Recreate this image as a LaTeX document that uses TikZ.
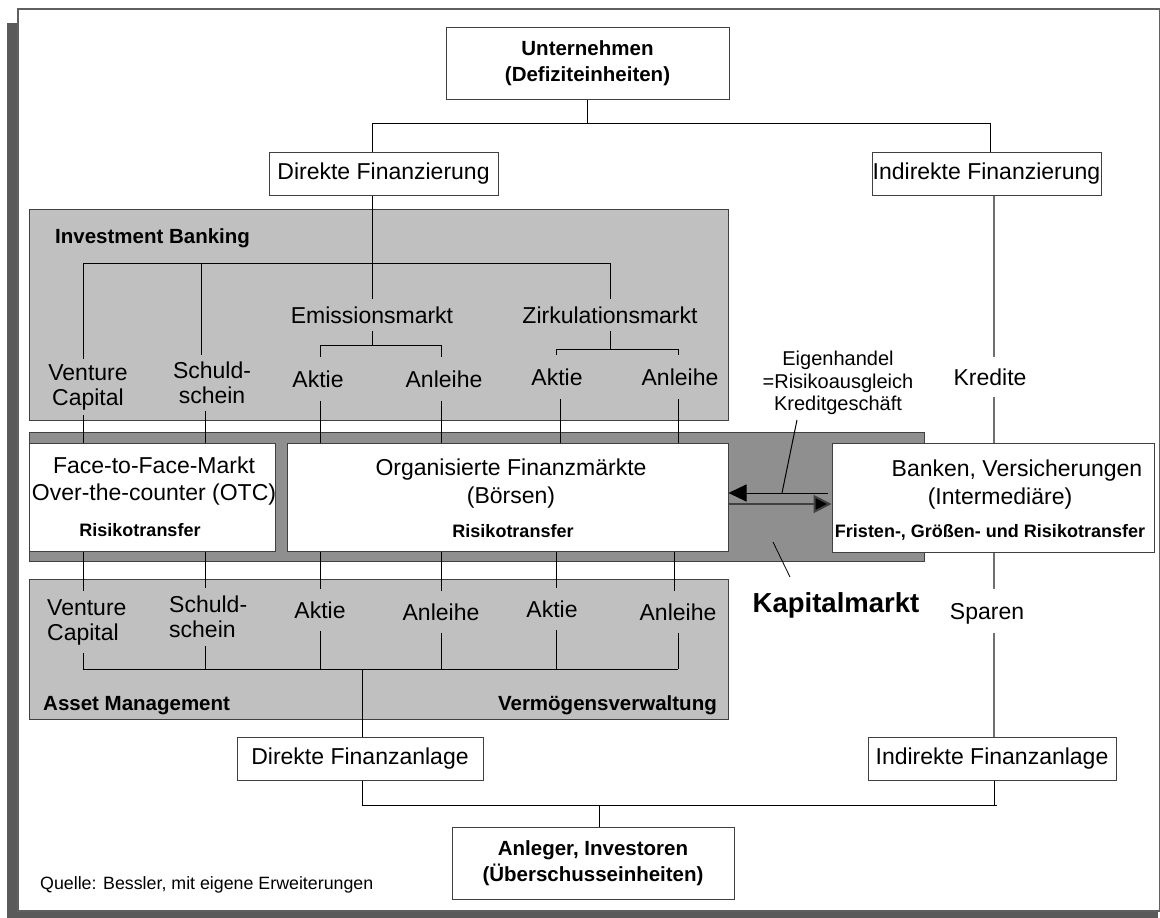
\documentclass[tikz,border=0pt]{standalone}
\usepackage{fontspec}
\setmainfont{Liberation Sans}
\usetikzlibrary{arrows.meta}
\definecolor{boxgray}{HTML}{C0C0C0}
\definecolor{bandgray}{HTML}{8F8F8F}
\definecolor{shadowgray}{HTML}{5A5A5A}
\definecolor{edgegray}{HTML}{404040}
\definecolor{framegray}{HTML}{606060}
\definecolor{linegray}{HTML}{6E6E6E}
\begin{document}
\begin{tikzpicture}[x=1pt,y=-1pt,
  box/.style={draw=edgegray, line width=1pt, fill=white, inner sep=0pt},
  area/.style={draw=edgegray, line width=1pt, fill=boxgray, inner sep=0pt},
  lbl/.style={font=\fontsize{23}{25}\selectfont, inner sep=6pt, align=center},
  one/.style={font=\fontsize{23}{25}\selectfont, inner xsep=2pt, inner ysep=8pt, text height=16.5pt, text depth=0pt},
  bt/.style={font=\fontsize{20.5}{26}\selectfont\bfseries, align=center},
  ttl/.style={font=\fontsize{20.5}{24}\selectfont\bfseries, inner sep=0pt, text height=14.8pt, text depth=0pt},
  sbt/.style={font=\fontsize{18}{21}\selectfont\bfseries, inner sep=0pt, text height=13pt, text depth=0pt},
  ln/.style={line width=1pt, black},
  gln/.style={line width=1.2pt, linegray},
  tip/.style={-{Triangle[length=18pt,width=17pt]}}
]
\useasboundingbox (0,0) rectangle (1160,918);
% frame with shadow
\fill[shadowgray] (7,23) rectangle (1158,918);
\draw[fill=white, draw=framegray, line width=1.2pt] (18,9) rectangle (1160,911);

% areas
\node[area, minimum width=699pt, minimum height=211pt] (ib) at (378.5,314.5) {};
\node[draw=edgegray, line width=1pt, fill=bandgray, inner sep=0pt, minimum width=895pt, minimum height=129pt] (km) at (476.5,496.5) {};
\node[area, minimum width=699pt, minimum height=140pt] (am) at (378.5,649) {};

% boxes
\node[box, bt, minimum width=283pt, minimum height=72pt] (unt) at (587.5,63) {Unternehmen\\(Defiziteinheiten)};
\node[box, font=\fontsize{23}{25}\selectfont, minimum width=229pt, minimum height=43pt] (dfin) at (383.5,173.5) {Direkte Finanzierung};
\node[box, font=\fontsize{23}{25}\selectfont, minimum width=229pt, minimum height=43pt] (ifin) at (986.5,173.5) {Indirekte Finanzierung};
\node[box, minimum width=246pt, minimum height=108pt] (otc) at (152,497) {};
\node[box, minimum width=441pt, minimum height=108pt] (boe) at (507.5,497) {};
\node[box, minimum width=322pt, minimum height=109pt] (ban) at (993,497.5) {};
\node[box, font=\fontsize{23}{25}\selectfont, minimum width=246pt, minimum height=43pt] (dfa) at (360,758.5) {Direkte Finanzanlage};
\node[box, font=\fontsize{23}{25}\selectfont, minimum width=248pt, minimum height=43pt] (ifa) at (992,758.5) {Indirekte Finanzanlage};
\node[box, bt, minimum width=282pt, minimum height=72pt] (anl) at (593,863) {Anleger, Investoren\\(Überschusseinheiten)};

% texts inside boxes / areas
\node[ttl, anchor=west] (ibt) at (55,236) {Investment Banking};
\node[ttl, anchor=west] (amt) at (43,703) {Asset Management};
\node[ttl, anchor=east] (vvt) at (717,703) {Vermögensverwaltung};
\node[lbl, font=\fontsize{23}{27}\selectfont, inner sep=0pt] (otct) at (154,481) {Face-to-Face-Markt\\Over-the-counter (OTC)};
\node[sbt] (otcr) at (140,530) {Risikotransfer};
\node[lbl, font=\fontsize{23}{28}\selectfont, inner sep=0pt] (boet) at (511,484) {Organisierte Finanzmärkte\\(Börsen)};
\node[sbt] (boer) at (513,531) {Risikotransfer};
\node[one, inner sep=0pt] (ban1) at (1017,468) {Banken, Versicherungen};
\node[one, inner sep=0pt] (ban2) at (1000,496) {(Intermediäre)};
\node[sbt] (banr) at (990,531) {Fristen-, Größen- und Risikotransfer};

% labels row 1
\node[one] (emi) at (372,315) {Emissionsmarkt};
\node[one] (zir) at (610,315) {Zirkulationsmarkt};
\node[lbl, inner ysep=5pt] (vc1) at (88,387) {Venture\\Capital};
\node[lbl, inner ysep=7pt] (sd1) at (212,383) {Schuld-\\schein};
\node[one, inner ysep=14pt] (ak1) at (318,379) {Aktie};
\node[one, inner ysep=14pt] (an1) at (444,379) {Anleihe};
\node[one, inner ysep=14pt] (ak2) at (557,377) {Aktie};
\node[one, inner ysep=14pt] (an2) at (680,377) {Anleihe};

% labels row 3
\node[lbl, align=left, anchor=west, inner xsep=0pt, inner ysep=8pt] (vc3) at (47,622) {Venture\\Capital};
\node[lbl, align=left, anchor=west, inner xsep=0pt, inner ysep=8pt] (sd3) at (169,617) {Schuld-\\schein};
\node[one, inner ysep=13pt] (ak3) at (320,610) {Aktie};
\node[one, inner ysep=13pt] (an3) at (441,612) {Anleihe};
\node[one, inner ysep=13pt] (ak4) at (552,609) {Aktie};
\node[one, inner ysep=13pt] (an4) at (678,612) {Anleihe};

% right column
\node[one, inner ysep=12pt] (kre) at (990,377) {Kredite};
\node[one, inner ysep=14pt] (spa) at (987,611) {Sparen};
\node[font=\fontsize{20}{22.5}\selectfont, align=center, inner sep=3pt] (eig) at (838,383) {Eigenhandel\\=Risikoausgleich\\Kreditgeschäft};
\node[font=\fontsize{27.5}{30}\selectfont\bfseries, inner sep=0pt, text height=19.7pt, text depth=0pt] (kap) at (836,603) {Kapitalmarkt};
\node[font=\fontsize{17.8}{20}\selectfont, anchor=west, inner sep=0pt, text height=12.8pt, text depth=0pt] (src) at (40,883) {Quelle: Bessler, mit eigene Erweiterungen};

% named x positions and junctions
\coordinate (jL) at (372,123);
\coordinate (jR) at (990,123);
\coordinate (xb) at (201,0);
\coordinate (xb2) at (205,0);
\coordinate (xe2) at (560,0);
\coordinate (xf2) at (674,0);
\coordinate (xr) at (994,0);
\coordinate (xdl) at (362,0);
\coordinate (xan) at (599,0);
\coordinate (b1) at (83,263);
\coordinate (b4) at (610,263);
\coordinate (e1) at (320,345);
\coordinate (e2) at (441,345);
\coordinate (z1) at (556,349);
\coordinate (z2) at (678,349);
\coordinate (r1) at (83,669);
\coordinate (r6) at (678,669);
\coordinate (jb1) at (362,805);
\coordinate (jb2) at (997,805);
\coordinate (arL) at (828,493);
\coordinate (arR) at (728,504);
\coordinate (eigA) at (797,420);
\coordinate (eigB) at (782,493);
\coordinate (kmA) at (773,542);
\coordinate (kmB) at (790,577);

% top tree
\draw[ln] (unt.south) -- (unt.south |- jL);
\draw[ln] (jL |- dfin.north) -- (jL) -- (jR) -- (jR |- ifin.north);
\draw[ln] (jL |- dfin.south) -- (emi.north);

% investment banking branches
\draw[ln] (b1) -- (b4);
\draw[ln] (b1) -- (vc1.north -| b1);
\draw[ln] (b1 -| xb) -- (sd1.north -| xb);
\draw[ln] (b4) -- (zir.north);
\draw[ln] (emi.south) -- (emi.south |- e1);
\draw[ln] (ak1.north -| e1) -- (e1) -- (e2) -- (an1.north -| e2);
\draw[ln] (zir.south) -- (zir.south |- z1);
\draw[ln] (ak2.north -| z1) -- (z1) -- (z2) -- (an2.north -| z2);

% row 1 to markets
\draw[ln] (vc1.south -| b1) -- (otc.north -| b1);
\draw[ln] (sd1.south -| xb2) -- (otc.north -| xb2);
\draw[ln] (ak1.south -| e1) -- (boe.north -| e1);
\draw[ln] (an1.south -| e2) -- (boe.north -| e2);
\draw[ln] (ak2.south -| xe2) -- (boe.north -| xe2);
\draw[ln] (an2.south -| z2) -- (boe.north -| z2);

% markets to row 3
\draw[ln] (otc.south -| b1) -- (vc3.north -| b1);
\draw[ln] (otc.south -| xb2) -- (sd3.north -| xb2);
\draw[ln] (boe.south -| e1) -- (ak3.north -| e1);
\draw[ln] (boe.south -| e2) -- (an3.north -| e2);
\draw[ln] (boe.south -| z1) -- (ak4.north -| z1);
\draw[ln] (boe.south -| xf2) -- (an4.north -| xf2);

% asset management tree
\draw[ln] (r1) -- (r6);
\draw[ln] (vc3.south -| r1) -- (r1);
\draw[ln] (sd3.south -| xb2) -- (xb2 |- r1);
\draw[ln] (ak3.south -| e1) -- (e1 |- r1);
\draw[ln] (an3.south -| e2) -- (e2 |- r1);
\draw[ln] (ak4.south -| z1) -- (z1 |- r1);
\draw[ln] (an4.south -| z2) -- (r6);
\draw[ln] (xdl |- r1) -- (dfa.north -| xdl);

% bottom tree
\draw[ln] (dfa.south -| xdl) -- (jb1) -- (jb2);
\draw[ln] (ifa.south -| xr) -- (xr |- jb2);
\draw[ln] (xan |- jb1) -- (anl.north -| xan);

% indirect column
\draw[gln] (ifin.south -| xr) -- (kre.north -| xr);
\draw[gln] (kre.south -| xr) -- (ban.north -| xr);
\draw[gln] (ban.south -| xr) -- (spa.north -| xr);
\draw[gln] (spa.south -| xr) -- (ifa.north -| xr);

% arrows between exchanges and banks
\draw[ln, tip] (arL) -- (boe.east |- arL);
\draw[line width=2pt, edgegray, -{Triangle[length=18pt,width=18pt,fill=black]}] (arR) -- (ban.west |- arR);
\draw[ln] (eigA) -- (eigB);
\draw[line width=0.8pt, black] (kmA) -- (kmB);
\end{tikzpicture}
\end{document}
